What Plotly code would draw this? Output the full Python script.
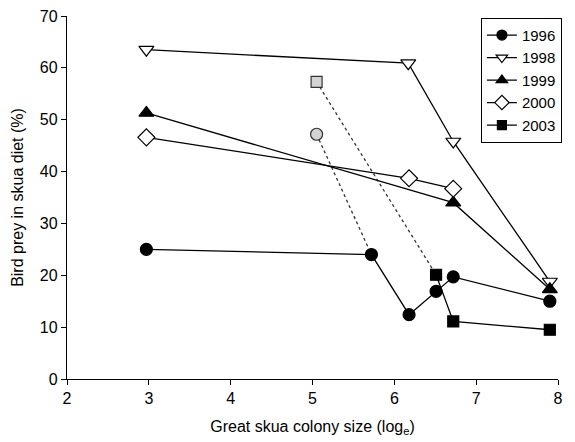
import plotly.graph_objects as go

x_1996 = [2.97, 5.72, 6.18, 6.51, 6.72, 7.90]
y_1996 = [25.0, 24.0, 12.4, 16.9, 19.7, 15.0]
x_1998 = [2.97, 6.17, 6.72, 7.90]
y_1998 = [63.5, 60.9, 45.8, 18.8]
x_1999 = [2.97, 6.72, 7.90]
y_1999 = [51.3, 34.0, 17.3]
x_2000 = [2.97, 6.18, 6.72]
y_2000 = [46.6, 38.7, 36.7]
x_2003 = [6.51, 6.72, 7.90]
y_2003 = [20.1, 11.1, 9.5]
# grey points linked by dotted lines
x_grey_sq = [5.05, 6.51]
y_grey_sq = [57.3, 20.1]
x_grey_ci = [5.05, 5.72]
y_grey_ci = [47.2, 24.0]

FONT = "Liberation Sans, Arial, sans-serif"
FS = 16
fig = go.Figure()

# dotted links (drawn first)
for xs, ys in [(x_grey_sq, y_grey_sq), (x_grey_ci, y_grey_ci)]:
    fig.add_trace(go.Scatter(x=xs, y=ys, mode="lines",
                             line=dict(color="#333", width=1.3, dash="dot"),
                             showlegend=False, hoverinfo="skip"))

series = [
    ("1996", x_1996, y_1996, "circle", "black", 12, 10),
    ("1998", x_1998, y_1998, "triangle-down", "white", 13, 10),
    ("1999", x_1999, y_1999, "triangle-up", "black", 13, 10),
    ("2000", x_2000, y_2000, "diamond", "white", 13, 11),
    ("2003", x_2003, y_2003, "square", "black", 11, 9),
]
for name, xs, ys, sym, fill, size, lsize in series:
    fig.add_trace(go.Scatter(
        x=xs, y=ys, name=name, mode="lines+markers", showlegend=False,
        line=dict(color="black", width=1.3),
        marker=dict(symbol=sym, size=size, color=fill, line=dict(color="black", width=1.2)),
    ))
# legend entries with smaller markers
for name, xs, ys, sym, fill, size, lsize in series:
    fig.add_trace(go.Scatter(
        x=[None], y=[None], name=name, mode="lines+markers", showlegend=True,
        line=dict(color="black", width=1.3),
        marker=dict(symbol=sym, size=lsize, color=fill, line=dict(color="black", width=1.2)),
    ))

fig.add_trace(go.Scatter(x=[x_grey_sq[0]], y=[y_grey_sq[0]], mode="markers", showlegend=False,
                         marker=dict(symbol="square", size=11, color="#d3d3d3", line=dict(color="#333", width=1.2))))
fig.add_trace(go.Scatter(x=[x_grey_ci[0]], y=[y_grey_ci[0]], mode="markers", showlegend=False,
                         marker=dict(symbol="circle", size=12, color="#d3d3d3", line=dict(color="#333", width=1.2))))

fig.update_layout(
    width=575, height=442,
    margin=dict(l=59, r=25, t=8, b=71),
    paper_bgcolor="white", plot_bgcolor="white",
    font=dict(family=FONT, size=FS, color="black"),
    showlegend=True,
    legend=dict(x=0.843, y=0.995, xanchor="left", yanchor="top",
                bordercolor="black", borderwidth=1, bgcolor="white",
                font=dict(size=15), tracegroupgap=0, itemwidth=30),
    xaxis=dict(range=[2, 8], tickvals=[2, 3, 4, 5, 6, 7, 8], showgrid=False, zeroline=False,
               showline=True, linecolor="black", linewidth=1.3, ticks="outside", ticklen=5,
               tickcolor="black", tickfont=dict(size=FS), automargin=False,
               ticklabeloverflow="allow",
               title=dict(text="Great skua colony size (log<sub>e</sub>)", font=dict(size=FS), standoff=14)),
    yaxis=dict(range=[0, 70], tickvals=[0, 10, 20, 30, 40, 50, 60, 70], showgrid=False, zeroline=False,
               showline=True, linecolor="black", linewidth=1.3, ticks="outside", ticklen=5,
               tickcolor="black", tickfont=dict(size=FS), automargin=False,
               ticklabeloverflow="allow",
               title=dict(text="Bird prey in skua diet (%)", font=dict(size=FS), standoff=12)),
)

fig.write_html("out.html")
